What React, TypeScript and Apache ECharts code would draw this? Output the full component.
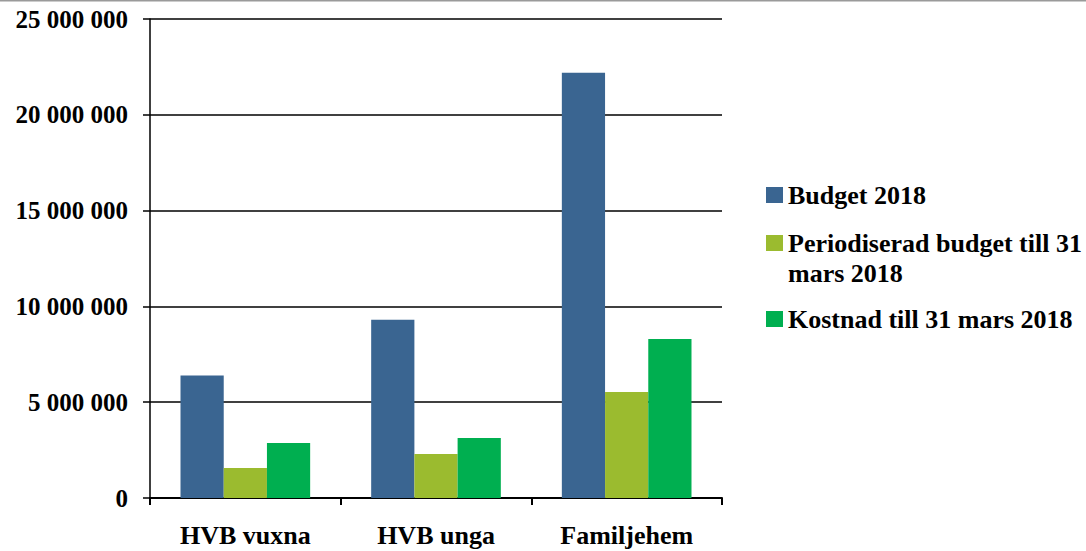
import React, { useEffect, useRef } from "react";
import * as echarts from "echarts";

const categories = ["HVB vuxna", "HVB unga", "Familjehem"];
const seriesNames = [
  "Budget 2018",
  "Periodiserad budget till 31 mars 2018",
  "Kostnad till 31 mars 2018",
];
const budget = [6400000, 9300000, 22200000];
const periodiserad = [1570000, 2300000, 5530000];
const kostnad = [2870000, 3130000, 8300000];
const colors = ["#3A6591", "#9BBB2F", "#00AF50"];

const FONT = "'Liberation Serif', 'Times New Roman', serif";

export default function App() {
  const ref = useRef<HTMLDivElement>(null);
  useEffect(() => {
    document.body.style.margin = "0";
    const chart = echarts.init(ref.current!, null, { renderer: "svg" });
    const legendCommon = {
      orient: "vertical",
      left: 766,
      padding: 0,
      itemWidth: 17,
      itemHeight: 16,
      itemGap: 0,
      icon: "rect",
      textStyle: {
        fontFamily: FONT,
        fontWeight: "bold",
        fontSize: 26,
        color: "#000",
        lineHeight: 30,
      },
    };
    chart.setOption({
      animation: false,
      backgroundColor: "#fff",
      graphic: [
        {
          type: "rect",
          left: 0,
          top: 0,
          shape: { width: 1086, height: 1.5 },
          style: { fill: "#9a9a9a" },
        },
      ],
      legend: [
        { ...legendCommon, top: 180, data: [seriesNames[0]] },
        {
          ...legendCommon,
          top: 198,
          data: [seriesNames[1]],
          formatter: () => " \nPeriodiserad budget till 31\nmars 2018",
        },
        { ...legendCommon, top: 304, data: [seriesNames[2]] },
      ],
      grid: { left: 150, right: 364, top: 19, bottom: 53 },
      xAxis: {
        type: "category",
        data: categories,
        axisLine: { show: true, lineStyle: { color: "#000", width: 2 } },
        axisTick: { show: true, length: 7, lineStyle: { color: "#000", width: 2 } },
        axisLabel: {
          margin: 24,
          fontFamily: FONT,
          fontWeight: "bold",
          fontSize: 26,
          color: "#000",
        },
      },
      yAxis: {
        type: "value",
        min: 0,
        max: 25000000,
        interval: 5000000,
        axisLine: { show: true, lineStyle: { color: "#000", width: 1.5 } },
        axisTick: { show: true, length: 7, lineStyle: { color: "#000", width: 1.5 } },
        splitLine: { show: true, lineStyle: { color: "#000", width: 1.5 } },
        axisLabel: {
          margin: 22,
          fontFamily: FONT,
          fontWeight: "bold",
          fontSize: 25,
          color: "#000",
          formatter: (v: number) =>
            String(v).replace(/\B(?=(\d{3})+(?!\d))/g, " "),
        },
      },
      series: [budget, periodiserad, kostnad].map((d, i) => ({
        type: "bar",
        name: seriesNames[i],
        data: d,
        barGap: "0%",
        barCategoryGap: "32%",
        itemStyle: { color: colors[i] },
      })),
    });
    return () => chart.dispose();
  }, []);
  return <div ref={ref} style={{ width: 1086, height: 551 }} />;
}
